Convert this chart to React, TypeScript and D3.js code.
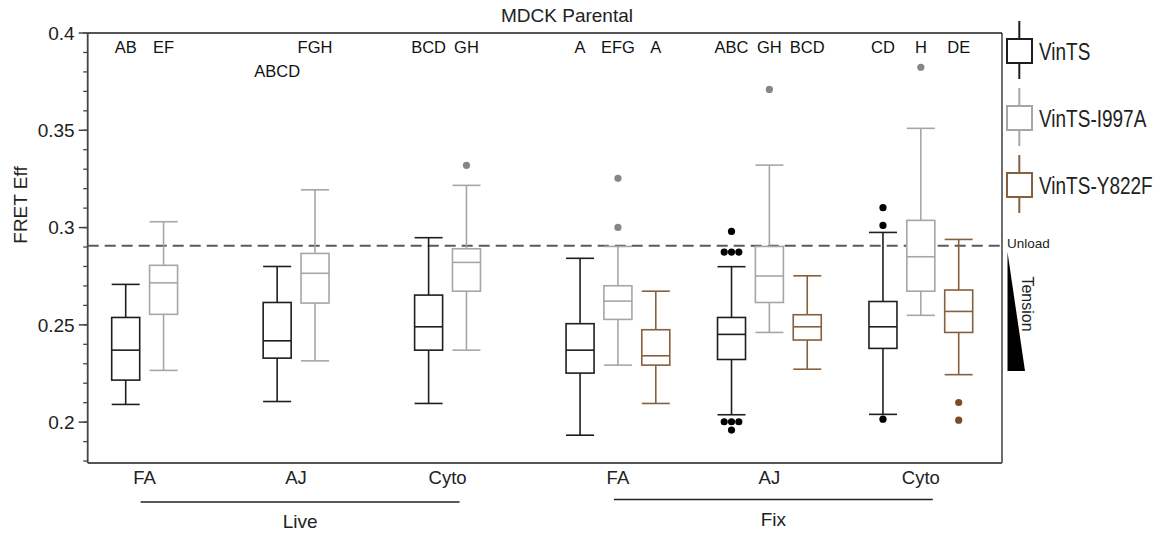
import * as d3 from "d3";

// categories
const groups = ["FA", "AJ", "Cyto", "FA", "AJ", "Cyto"];
const phases = ["Live", "Fix"];
const groupPhase = [0, 0, 0, 1, 1, 1];
const seriesNames = ["VinTS", "VinTS-I997A", "VinTS-Y822F"];
const seriesColors = ["#1e1e1e", "#a6a6a6", "#86603e"];
const outlierColors = ["#000000", "#868686", "#7a4b25"];

// box stats per group: [low whisker, q1, median, q3, high whisker]
const vints = [
  [0.2091, 0.2216, 0.237, 0.2538, 0.2708],
  [0.2106, 0.2329, 0.2418, 0.2615, 0.28],
  [0.2096, 0.237, 0.249, 0.2653, 0.2948],
  [0.1933, 0.2252, 0.237, 0.2506, 0.2842],
  [0.2038, 0.2322, 0.2451, 0.2538, 0.2799],
  [0.204, 0.2379, 0.249, 0.262, 0.2975],
];
const i997a = [
  [0.2266, 0.2554, 0.2716, 0.2806, 0.303],
  [0.2315, 0.2612, 0.2765, 0.2867, 0.3194],
  [0.237, 0.2673, 0.2821, 0.2891, 0.3217],
  [0.2293, 0.2528, 0.2622, 0.2701, 0.2903],
  [0.2461, 0.2615, 0.2751, 0.2903, 0.3321],
  [0.2549, 0.2673, 0.285, 0.3037, 0.351],
];
const y822f = [
  null,
  null,
  null,
  [0.2096, 0.2293, 0.2341, 0.2475, 0.2673],
  [0.2272, 0.2422, 0.249, 0.2552, 0.2752],
  [0.2244, 0.2461, 0.2569, 0.2679, 0.2939],
];

const vintsOutliers = [[], [], [], [], [0.298, 0.2874, 0.2874, 0.2874, 0.2002, 0.2002, 0.2002, 0.1959], [0.3102, 0.3011, 0.2015]];
const i997aOutliers = [[], [], [0.332], [0.3253, 0.3001], [0.371], [0.3824]];
const y822fOutliers = [[], [], [], [], [], [0.2101, 0.201]];

// significance letters
const vintsLetters = ["AB", "ABCD", "BCD", "A", "ABC", "CD"];
const i997aLetters = ["EF", "FGH", "GH", "EFG", "GH", "H"];
const y822fLetters = ["", "", "", "A", "BCD", "DE"];
const vintsLetterRow = [0, 1, 0, 0, 0, 0];

const yTicks = [0.2, 0.25, 0.3, 0.35, 0.4];
const unloadLevel = 0.2906;

const allStats = [vints, i997a, y822f];
const allOutliers = [vintsOutliers, i997aOutliers, y822fOutliers];
const allLetters = [vintsLetters, i997aLetters, y822fLetters];

const W = 1164, H = 535;
const left = 87.7, right = 1002, top = 33, bottom = 463;
const boxW = 28;
const font = "'Liberation Sans', Arial, sans-serif";

const y = d3.scaleLinear().domain([0.179, 0.4]).range([bottom, top]);
const slot = d3.scaleLinear().domain([0, 22]).range([125.7, 958.7]);

function spread(vals: number[]) {
  const counts = d3.rollup(vals, v => v.length, v => v);
  const seen = new Map<number, number>();
  return vals.map(v => {
    const n = counts.get(v) || 1;
    const k = seen.get(v) || 0;
    seen.set(v, k + 1);
    return { v, dx: (k - (n - 1) / 2) * 7.3 };
  });
}

export default function App() {
  const minor = d3.range(0.18, 0.4001, 0.01);
  const groupCenters = groups.map((_, g) => {
    const present = allStats.map((s, j) => (s[g] ? 4 * g + j : null)).filter(d => d !== null) as number[];
    return slot(d3.mean(present)!);
  });

  return (
    <div style={{ position: "fixed", left: 0, top: 0 }}>
      <svg width={W} height={H} style={{ display: "block", fontFamily: font }}>
        <rect width={W} height={H} fill="#fff" />

        {/* title */}
        <text x={567} y={22} fontSize={19} textAnchor="middle" fill="#222">MDCK Parental</text>

        {/* frame */}
        <line x1={left} x2={right} y1={top} y2={top} stroke="#555" strokeWidth={1.8} />
        <line x1={right} x2={right} y1={top} y2={bottom} stroke="#222" strokeWidth={1.3} />
        <line x1={left} x2={right} y1={bottom} y2={bottom} stroke="#555" strokeWidth={2} />
        <line x1={left} x2={left} y1={top} y2={bottom} stroke="#444" strokeWidth={1.8} />

        {/* y axis */}
        {minor.map((t, i) => (
          <line key={"m" + i} x1={left - 4.5} x2={left} y1={y(t)} y2={y(t)} stroke="#444" strokeWidth={1.3} />
        ))}
        {yTicks.map(t => (
          <g key={t}>
            <line x1={left - 9} x2={left} y1={y(t)} y2={y(t)} stroke="#444" strokeWidth={1.5} />
            <text x={left - 13} y={y(t)} dy="0.35em" fontSize={19} textAnchor="end" fill="#222">{d3.format("~g")(t)}</text>
          </g>
        ))}
        <text transform={`translate(27,205) rotate(-90)`} fontSize={19} textAnchor="middle" fill="#222">FRET Eff</text>

        {/* unload reference */}
        <line x1={left} x2={right} y1={y(unloadLevel)} y2={y(unloadLevel)} stroke="#5a5a5a" strokeWidth={2} strokeDasharray="11 6" />

        {/* boxes */}
        {allStats.map((stats, j) =>
          stats.map((s, g) => {
            if (!s) return null;
            const cx = slot(4 * g + j);
            const c = seriesColors[j];
            const [lo, q1, med, q3, hi] = s;
            return (
              <g key={`b${j}-${g}`} stroke={c} strokeWidth={1.6} fill="none">
                <line x1={cx} x2={cx} y1={y(q3)} y2={y(hi)} />
                <line x1={cx} x2={cx} y1={y(q1)} y2={y(lo)} />
                <line x1={cx - boxW / 2} x2={cx + boxW / 2} y1={y(hi)} y2={y(hi)} />
                <line x1={cx - boxW / 2} x2={cx + boxW / 2} y1={y(lo)} y2={y(lo)} />
                <rect x={cx - boxW / 2} y={y(q3)} width={boxW} height={y(q1) - y(q3)} fill="#fff" />
                <line x1={cx - boxW / 2} x2={cx + boxW / 2} y1={y(med)} y2={y(med)} />
              </g>
            );
          })
        )}

        {/* outliers */}
        {allOutliers.map((outs, j) =>
          outs.map((vals, g) =>
            spread(vals).map((o, k) => (
              <circle key={`o${j}-${g}-${k}`} cx={slot(4 * g + j) + o.dx} cy={y(o.v)} r={3.6} fill={outlierColors[j]} />
            ))
          )
        )}

        {/* letters */}
        {allLetters.map((ls, j) =>
          ls.map((l, g) =>
            l ? (
              <text key={`l${j}-${g}`} x={slot(4 * g + j)} y={j === 0 && vintsLetterRow[g] ? 77 : 53} fontSize={16.5} textAnchor="middle" fill="#111">{l}</text>
            ) : null
          )
        )}

        {/* category labels */}
        {groups.map((gname, g) => (
          <text key={"c" + g} x={groupCenters[g]} y={484} fontSize={18.5} textAnchor="middle" fill="#222">{gname}</text>
        ))}

        {/* phase labels */}
        {phases.map((p, pi) => {
          const idx = groupPhase.map((ph, g) => (ph === pi ? g : -1)).filter(g => g >= 0);
          const x1 = groupCenters[idx[0]] - 4;
          const x2 = groupCenters[idx[idx.length - 1]] + 12;
          const ly = pi === 0 ? 502 : 499.5;
          return (
            <g key={p}>
              <line x1={x1} x2={x2} y1={ly} y2={ly} stroke="#222" strokeWidth={1.5} />
              <text x={(x1 + x2) / 2} y={ly + 26} fontSize={19} textAnchor="middle" fill="#222">{p}</text>
            </g>
          );
        })}

        {/* legend */}
        {seriesNames.map((name, j) => {
          const cy = 51 + j * 67;
          const c = seriesColors[j];
          return (
            <g key={name}>
              <line x1={1019.3} x2={1019.3} y1={cy - 30} y2={cy + 28} stroke={c} strokeWidth={2} />
              <rect x={1007} y={cy - 12} width={25} height={24} fill="#fff" stroke={c} strokeWidth={2} />
              <text transform={`translate(1039,${cy + 9}) scale(1,1.25)`} fontSize={19} fill="#222">{name}</text>
            </g>
          );
        })}

        {/* tension marker */}
        <text x={1007} y={248} fontSize={13.5} fill="#222">Unload</text>
        <path d="M1007.5,252 L1025,371 L1007.5,371 Z" fill="#000" />
        <text transform="translate(1022,304) rotate(90)" fontSize={16} textAnchor="middle" fill="#222">Tension</text>
      </svg>
    </div>
  );
}
